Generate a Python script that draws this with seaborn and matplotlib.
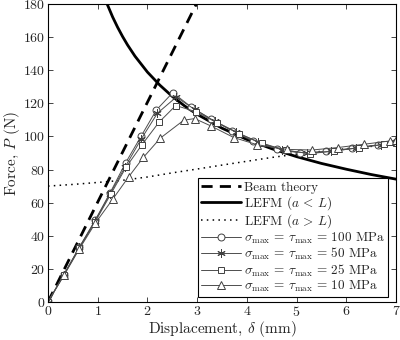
import numpy as np
import pandas as pd
import matplotlib
matplotlib.use("Agg")
import matplotlib.pyplot as plt
import seaborn as sns

# ---------------- data ----------------
beam_d = [0.0, 3.0]
beam_p = [0.0, 181.0]

lefm1_d = [1.15, 1.19, 1.3, 1.4, 1.5, 1.6, 1.75, 2.0, 2.25, 2.5, 2.75, 3.0, 3.5,
           4.0, 4.5, 5.0, 5.5, 6.0, 6.5, 7.0]
lefm1_p = [183.0, 180.0, 172.2, 166.0, 160.4, 155.3, 148.5, 138.9, 131.0, 124.2,
           118.4, 113.4, 105.0, 98.2, 92.6, 87.8, 83.7, 80.2, 77.0, 74.2]

lefm2_d = [0.0, 0.5, 1.0, 1.5, 2.0, 2.5, 3.0, 3.5, 4.0, 4.5, 5.0, 5.5, 6.0, 6.5, 7.0]
lefm2_p = [70.0, 71.0, 72.2, 73.5, 75.5, 78.0, 80.3, 82.7, 85.0, 87.3, 89.3, 91.0,
           92.6, 94.0, 95.3]

c100_d = [0, 0.32, 0.63, 0.95, 1.25, 1.56, 1.87, 2.18, 2.51, 2.88, 3.28, 3.70, 4.13,
          4.6, 5.06, 5.6, 6.12, 6.63, 7.0]
c100_p = [0, 16.5, 33.0, 49.5, 66.0, 84.0, 100.0, 116.0, 126.5, 117.8, 110.5, 103.5,
          97.0, 92.5, 90.0, 91.0, 92.9, 94.9, 96.4]

c50_d = [0, 0.32, 0.63, 0.95, 1.25, 1.55, 1.87, 2.20, 2.58, 2.95, 3.35, 3.78, 4.22,
         4.7, 5.2, 5.7, 6.2, 6.7, 7.0]
c50_p = [0, 16.5, 33.0, 49.0, 65.5, 81.5, 98.2, 114.0, 123.8, 116.3, 109.3, 102.8,
         96.6, 92.0, 89.9, 91.0, 93.0, 95.0, 96.3]

c25_d = [0, 0.32, 0.63, 0.95, 1.26, 1.57, 1.89, 2.23, 2.57, 2.97, 3.40, 3.85, 4.30,
         4.78, 5.27, 5.75, 6.25, 6.75, 7.0]
c25_p = [0, 16.3, 32.5, 48.5, 65.0, 81.4, 95.0, 108.5, 118.7, 115.0, 108.3, 101.5,
         96.0, 91.6, 89.6, 91.2, 93.2, 95.2, 96.3]

c10_d = [0, 0.32, 0.63, 0.95, 1.30, 1.62, 1.92, 2.26, 2.73, 2.95, 3.28, 3.74, 4.21,
         4.8, 5.31, 5.83, 6.36, 6.88, 7.0]
c10_p = [0, 16.0, 32.0, 47.5, 62.0, 75.5, 87.4, 99.0, 109.8, 110.8, 106.3, 99.3,
         95.0, 92.2, 91.8, 93.3, 95.3, 97.3, 97.8]

labels = ["Beam theory", r"LEFM ($a\,<\,L$)", r"LEFM ($a\,>\,L$)",
          r"$\sigma_{\rm max}\,=\,\tau_{\rm max}\,=\,100$ MPa",
          r"$\sigma_{\rm max}\,=\,\tau_{\rm max}\,=\,50$ MPa",
          r"$\sigma_{\rm max}\,=\,\tau_{\rm max}\,=\,25$ MPa",
          r"$\sigma_{\rm max}\,=\,\tau_{\rm max}\,=\,10$ MPa"]

x_ticks = [0, 1, 2, 3, 4, 5, 6, 7]
y_ticks = [0, 20, 40, 60, 80, 100, 120, 140, 160, 180]

# ---------------- style ----------------
sns.set_style("ticks")
plt.rcParams["font.family"] = ["cmr10", "DejaVu Serif"]
plt.rcParams["mathtext.fontset"] = "cm"
plt.rcParams["axes.formatter.use_mathtext"] = True
plt.rcParams["xtick.direction"] = "in"
plt.rcParams["ytick.direction"] = "in"

fig = plt.figure(figsize=(4.0, 3.4), dpi=100)
ax = fig.add_axes([0.12, 0.112, 0.87, 0.876])

def df(d, p):
    return pd.DataFrame({"d": d, "p": p})

sns.lineplot(data=df(beam_d, beam_p), x="d", y="p", ax=ax, sort=False, estimator=None,
             color="black", lw=2.0, linestyle=(0, (4, 2.6)), label=labels[0])
sns.lineplot(data=df(lefm1_d, lefm1_p), x="d", y="p", ax=ax, sort=False, estimator=None,
             color="black", lw=2.0, label=labels[1])
sns.lineplot(data=df(lefm2_d, lefm2_p), x="d", y="p", ax=ax, sort=False, estimator=None,
             color="black", lw=1.1, linestyle=(0, (1, 2.8)), label=labels[2])

line_col = "0.3"
mk_specs = [(c100_d, c100_p, "o", 5.0), (c50_d, c50_p, (6, 2, 0), 6.0),
            (c25_d, c25_p, "s", 4.5), (c10_d, c10_p, "^", 5.5)]
for (d, p, m, ms), lab in zip(mk_specs, labels[3:]):
    sns.lineplot(data=df(d, p), x="d", y="p", ax=ax, sort=False, estimator=None,
                 color=line_col, lw=0.7, marker=m, markersize=ms,
                 markerfacecolor="white", markeredgecolor="0.25",
                 markeredgewidth=0.7, label=lab)

ax.set_xlim(0, 7)
ax.set_ylim(0, 180)
ax.set_xticks(x_ticks)
ax.set_yticks(y_ticks)
ax.tick_params(axis="both", which="both", top=True, right=True, length=3.5,
               width=0.6, labelsize=10, pad=2)
for s in ax.spines.values():
    s.set_linewidth(0.8)
    s.set_color("black")

ax.set_xlabel(r"Displacement, $\delta$ (mm)", fontsize=11, labelpad=0)
ax.set_ylabel(r"Force, $P$ (N)", fontsize=11, labelpad=1)

leg = ax.legend(loc="lower right", bbox_to_anchor=(0.978, 0.015), fontsize=9.5,
                frameon=True, fancybox=False, framealpha=1, edgecolor="black",
                handlelength=3.0, handletextpad=0.3, borderpad=0.25,
                labelspacing=0.02, borderaxespad=0.0)
leg.get_frame().set_linewidth(0.8)

fig.savefig("out.png", dpi=100)
